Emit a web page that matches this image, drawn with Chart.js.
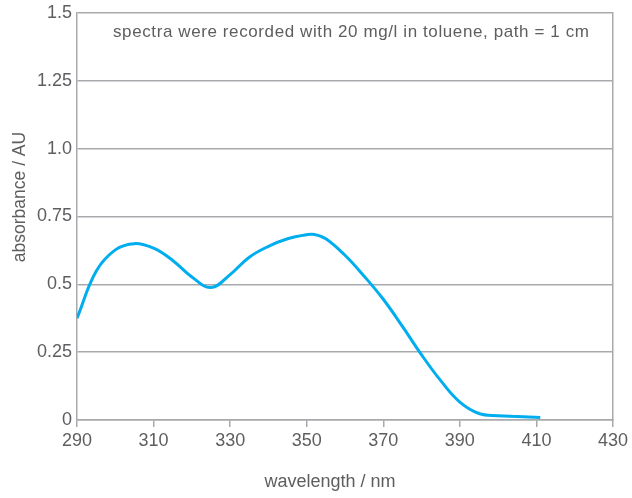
<!DOCTYPE html>
<html>
<head>
<meta charset="utf-8">
<script src="https://cdn.jsdelivr.net/npm/chart.js@4/dist/chart.umd.min.js"></script>
<style>
html,body{margin:0;padding:0;background:#fff;}
#wrap{width:632px;height:498px;position:relative;}
</style>
</head>
<body>
<div id="wrap"><canvas id="c" width="632" height="498"></canvas></div>
<script>
const wavelengths = [290, 295, 300, 305, 310, 315, 320, 325, 330, 335, 340, 345, 350, 352, 355, 360, 365, 370, 375, 380, 385, 390, 395, 400, 405, 411];
const absorbance  = [0.375, 0.548, 0.627, 0.650, 0.633, 0.588, 0.527, 0.488, 0.536, 0.600, 0.640, 0.668, 0.683, 0.684, 0.668, 0.607, 0.530, 0.445, 0.345, 0.240, 0.145, 0.066, 0.024, 0.016, 0.013, 0.009];
const yTickValues = [0, 0.25, 0.5, 0.75, 1.0, 1.25, 1.5];
const yTickLabels = ['0', '0.25', '0.5', '0.75', '1.0', '1.25', '1.5'];
const xTickValues = [290, 310, 330, 350, 370, 390, 410, 430];
const noteText = 'spectra were recorded with 20 mg/l in toluene, path = 1 cm';
const xTitle = 'wavelength / nm';
const yTitle = 'absorbance / AU';

const FONT = '"Liberation Sans", Arial, sans-serif';
const TXT = '#5d5e60';
const GRID = '#a7a9ac';

const textPlugin = {
  id: 'texts',
  afterDraw(chart) {
    const ctx = chart.ctx;
    const a = chart.chartArea;
    ctx.save();
    ctx.fillStyle = TXT;
    ctx.textBaseline = 'middle';
    ctx.font = '17px ' + FONT;
    ctx.letterSpacing = '0.6px';
    ctx.textAlign = 'left';
    ctx.fillText(noteText, a.left + 36, a.top + 19);
    ctx.font = '18px ' + FONT;
    ctx.letterSpacing = '0px';
    ctx.textAlign = 'center';
    ctx.fillText(xTitle, 330, 482);
    ctx.translate(20, 197);
    ctx.rotate(-Math.PI / 2);
    ctx.font = '17.5px ' + FONT;
    ctx.fillText(yTitle, 0, 0);
    ctx.restore();
  }
};

new Chart(document.getElementById('c'), {
  type: 'line',
  data: {
    datasets: [{
      data: wavelengths.map((w, i) => ({x: w, y: absorbance[i]})),
      borderColor: '#00aeef',
      borderWidth: 3,
      pointRadius: 0,
      fill: false,
      tension: 0.4
    }]
  },
  options: {
    responsive: false,
    animation: false,
    layout: {padding: {left: 0, right: 19, top: 13, bottom: 0}},
    plugins: {legend: {display: false}, tooltip: {enabled: false}},
    scales: {
      x: {
        type: 'linear',
        min: 290, max: 430,
        afterBuildTicks(s) { s.ticks = xTickValues.map(v => ({value: v})); },
        afterFit(s) { s.height = 78; s.paddingLeft = 0; s.paddingRight = 0; },
        ticks: {font: {family: FONT, size: 18}, color: TXT, padding: 3, maxRotation: 0},
        grid: {drawOnChartArea: false, drawTicks: true, tickLength: 7, color: GRID, lineWidth: 1.5},
        border: {display: true, color: GRID, width: 1.5},
        title: {display: false}
      },
      y: {
        type: 'linear',
        min: 0, max: 1.5,
        afterBuildTicks(s) { s.ticks = yTickValues.map(v => ({value: v})); },
        afterFit(s) { s.width = 77; s.paddingTop = 0; s.paddingBottom = 0; },
        ticks: {font: {family: FONT, size: 18}, color: TXT, padding: 5,
          callback: (v) => { const i = yTickValues.indexOf(v); return i >= 0 ? yTickLabels[i] : ''; }},
        grid: {drawTicks: false, color: GRID, lineWidth: 1.5},
        border: {display: true, color: GRID, width: 1.5},
        title: {display: false}
      },
      y2: {
        type: 'linear',
        position: 'right',
        min: 0, max: 1.5,
        afterFit(s) { s.width = 0; s.paddingTop = 0; s.paddingBottom = 0; },
        ticks: {display: false},
        grid: {display: false},
        border: {display: true, color: GRID, width: 1.5}
      }
    }
  },
  plugins: [textPlugin]
});
</script>
</body>
</html>
